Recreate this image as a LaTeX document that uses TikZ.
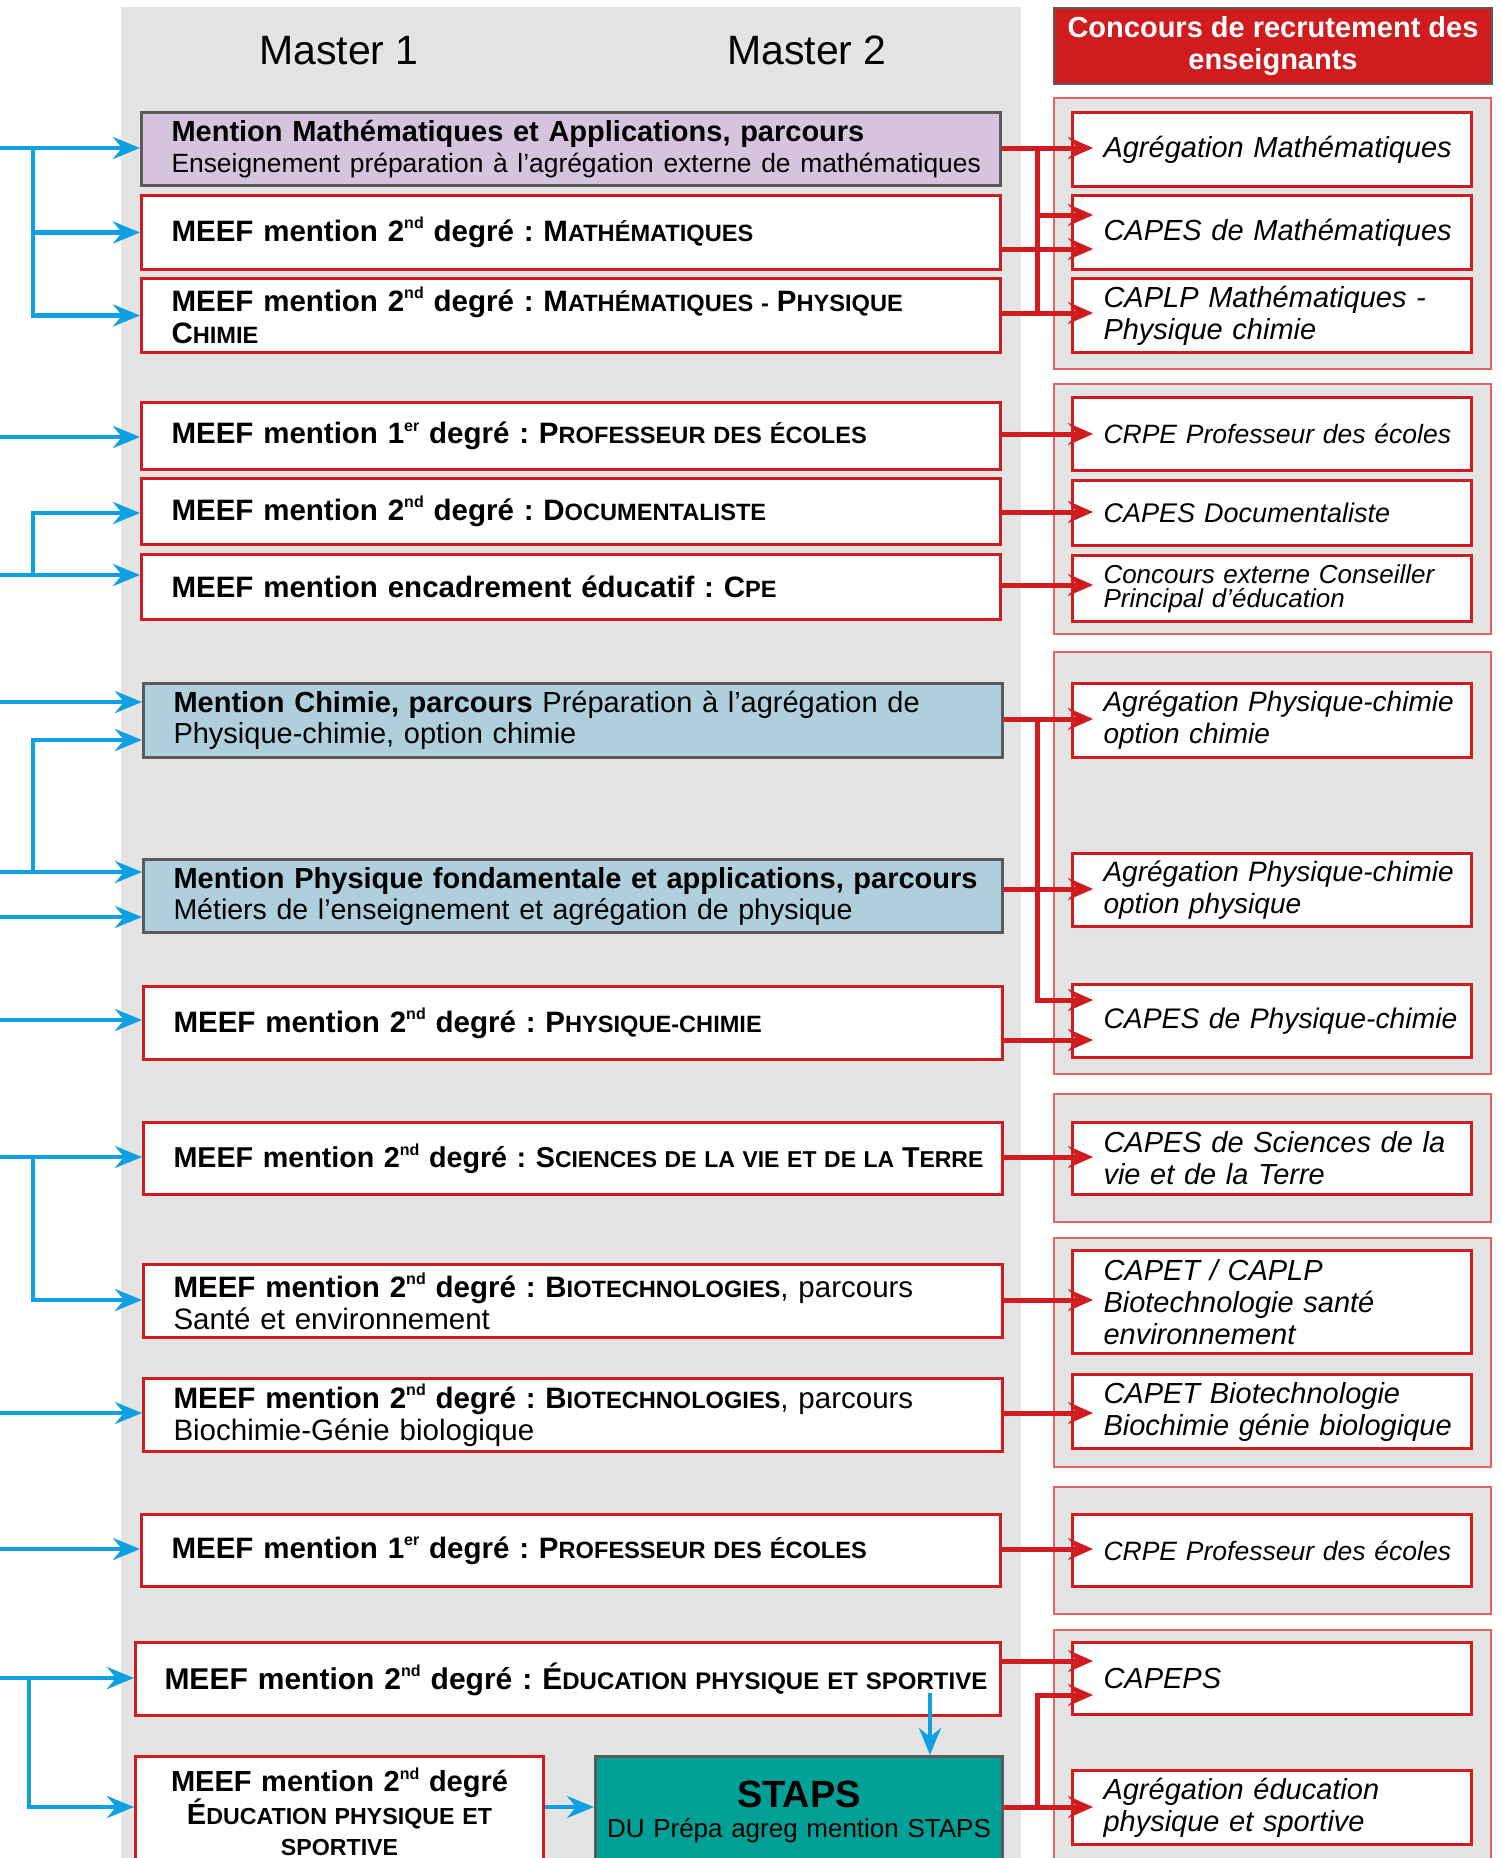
\documentclass[tikz,border=0pt]{standalone}
\usepackage{fontspec}
\setmainfont{Liberation Sans}
\usepackage{graphicx}
\usetikzlibrary{arrows.meta}
\definecolor{rred}{RGB}{208,28,31}
\definecolor{bblue}{RGB}{14,160,226}
\definecolor{panel}{RGB}{228,228,228}
\definecolor{purp}{RGB}{214,195,221}
\definecolor{lblue}{RGB}{175,207,220}
\definecolor{teal}{RGB}{0,160,150}
\definecolor{dgray}{RGB}{90,90,90}
\definecolor{pinkb}{RGB}{226,100,100}
\newcommand\sups[1]{\raisebox{0.43em}{\fontsize{16}{16}\selectfont #1}}
\newcommand\sk[1]{\scalebox{0.8}{#1}}
\frenchspacing
\begin{document}
\frenchspacing
\begin{tikzpicture}[x=1pt,y=-1pt,
  lbase/.style={draw=rred, line width=3pt, fill=white, anchor=north west, inner xsep=0pt, inner ysep=0pt, align=left, font=\fontsize{29.5}{32}\selectfont},
  lbox/.style={lbase, execute at begin node={\leftskip=30pt\relax}},
  gbox/.style={lbox, draw=dgray},
  rbox/.style={draw=rred, line width=3pt, fill=white, anchor=north west, inner xsep=0pt, inner ysep=0pt, minimum width=399pt, text width=399pt, align=left, font=\itshape\fontsize{29}{32}\selectfont, execute at begin node={\leftskip=31pt\relax}},
  grp/.style={draw=pinkb, line width=1.5pt, fill=panel, anchor=north west, inner sep=0pt},
  barrow/.style={draw=bblue, line width=4.5pt, -{Stealth[length=27pt,width=22pt,inset=9pt]}},
  rarrow/.style={draw=rred, line width=5pt, -{Stealth[length=25pt,width=22pt,inset=9pt]}},
  rline/.style={draw=rred, line width=5pt}
]
\useasboundingbox (0,0) rectangle (1501,1858);
\fill[panel] (121,7) rectangle (1021,1870);

% right groups
\node[grp, minimum width=437pt, minimum height=271pt] (g1) at (1053,97) {};
\node[grp, minimum width=437pt, minimum height=250pt] (g2) at (1053,383) {};
\node[grp, minimum width=437pt, minimum height=422pt] (g3) at (1053,651) {};
\node[grp, minimum width=437pt, minimum height=128pt] (g4) at (1053,1093) {};
\node[grp, minimum width=437pt, minimum height=229pt] (g5) at (1053,1237) {};
\node[grp, minimum width=437pt, minimum height=127pt] (g6) at (1053,1486) {};
\node[grp, minimum width=437pt, minimum height=250pt] (g7) at (1053,1629) {};

% header
\node[draw=dgray, line width=2pt, fill=rred, anchor=north west, minimum width=438pt, minimum height=76pt, text=white, align=center, font=\bfseries\fontsize{29}{32}\selectfont] (hdr) at (1053,7) {Concours de recrutement des\\enseignants};
\node[anchor=base, font=\fontsize{41}{41}\selectfont] (m1) at (339,64) {Master 1};
\node[anchor=base, font=\fontsize{41}{41}\selectfont] (m2) at (807,64) {Master 2};

% left boxes
\node[gbox, fill=purp, minimum width=859pt, minimum height=73pt, text width=859pt, font=\fontsize{29}{31}\selectfont] (purple) at (140,111)
  {\textbf{Mention Mathématiques et Applications, parcours}\\{\fontsize{26.4}{31}\selectfont Enseignement préparation à l’agrégation externe de mathématiques}};
\node[lbox, minimum width=859pt, minimum height=74pt, text width=859pt] (math) at (140,194)
  {\textbf{MEEF mention 2\sups{nd} degré : M\sk{ATHÉMATIQUES}}};
\node[lbox, minimum width=859pt, minimum height=74pt, text width=859pt] (mathpc) at (140,277)
  {\textbf{MEEF mention 2\sups{nd} degré : M\sk{ATHÉMATIQUES - }P\sk{HYSIQUE}}\\\textbf{C\sk{HIMIE}}};
\node[lbox, minimum width=859pt, minimum height=67pt, text width=859pt] (pe1) at (140,401)
  {\textbf{MEEF mention 1\sups{er} degré : P\sk{ROFESSEUR DES ÉCOLES}}};
\node[lbox, minimum width=859pt, minimum height=66pt, text width=859pt] (doc) at (140,477)
  {\textbf{MEEF mention 2\sups{nd} degré : D\sk{OCUMENTALISTE}}};
\node[lbox, minimum width=859pt, minimum height=65pt, text width=859pt] (cpe) at (140,553)
  {\textbf{MEEF mention encadrement éducatif : C\sk{PE}}};
\node[gbox, fill=lblue, minimum width=859pt, minimum height=74pt, text width=859pt, font=\fontsize{29}{31}\selectfont] (chimie) at (142,682)
  {\textbf{Mention Chimie, parcours} Préparation à l’agrégation de\\Physique-chimie, option chimie};
\node[gbox, fill=lblue, minimum width=859pt, minimum height=73pt, text width=859pt, font=\fontsize{29}{31}\selectfont] (phys) at (142,858)
  {\textbf{Mention Physique fondamentale et applications, parcours}\\{\fontsize{28.5}{31}\selectfont Métiers de l’enseignement et agrégation de physique}};
\node[lbox, minimum width=859pt, minimum height=73pt, text width=859pt] (pc) at (142,985)
  {\textbf{MEEF mention 2\sups{nd} degré : P\sk{HYSIQUE-CHIMIE}}};
\node[lbox, minimum width=859pt, minimum height=72pt, text width=859pt, font=\fontsize{28.7}{32}\selectfont] (svt) at (142,1121)
  {\textbf{MEEF mention 2\sups{nd} degré : S\sk{CIENCES DE LA VIE ET DE LA }T\sk{ERRE}}};
\node[lbox, minimum width=859pt, minimum height=73pt, text width=859pt] (bse) at (142,1263)
  {\textbf{MEEF mention 2\sups{nd} degré : B\sk{IOTECHNOLOGIES}}, parcours\\Santé et environnement};
\node[lbox, minimum width=859pt, minimum height=73pt, text width=859pt] (bgb) at (142,1377)
  {\textbf{MEEF mention 2\sups{nd} degré : B\sk{IOTECHNOLOGIES}}, parcours\\Biochimie-Génie biologique};
\node[lbox, minimum width=859pt, minimum height=72pt, text width=859pt] (pe2) at (140,1513)
  {\textbf{MEEF mention 1\sups{er} degré : P\sk{ROFESSEUR DES ÉCOLES}}};
\node[lbase, minimum width=865pt, minimum height=73pt, text width=865pt, font=\fontsize{30}{32}\selectfont, execute at begin node={\leftskip=29pt\relax}] (eps) at (134,1641)
  {\textbf{MEEF mention 2\sups{nd} degré : É\sk{DUCATION PHYSIQUE ET SPORTIVE}}};
\node[lbase, inner xsep=5pt, minimum width=408pt, minimum height=110pt, text width=398pt, align=center, font=\bfseries\fontsize{29}{31}\selectfont] (epss) at (134,1755)
  {MEEF mention 2\sups{nd} degré\\É\sk{DUCATION PHYSIQUE ET}\\\sk{SPORTIVE}\par\vspace{10pt}};
\node[lbase, draw=dgray, fill=teal, inner xsep=5pt, minimum width=407pt, minimum height=110pt, text width=397pt, align=center, font=\fontsize{26}{30}\selectfont] (staps) at (594,1755)
  {{\bfseries\fontsize{38}{44}\selectfont STAPS}\\DU Prépa agreg mention STAPS};

% right boxes
\node[rbox, minimum height=74pt] (am) at (1071,111) {Agrégation Mathématiques};
\node[rbox, minimum height=74pt] (cm) at (1071,194) {CAPES de Mathématiques};
\node[rbox, minimum height=74pt] (cl) at (1071,277) {CAPLP Mathématiques -\\Physique chimie};
\node[rbox, minimum height=73pt, font=\itshape\fontsize{26.5}{32}\selectfont] (crpe) at (1071,396) {CRPE Professeur des écoles};
\node[rbox, minimum height=65pt, font=\itshape\fontsize{27}{32}\selectfont] (cdoc) at (1071,479) {CAPES Documentaliste};
\node[rbox, minimum height=66pt, font=\itshape\fontsize{26}{24}\selectfont] (ccpe) at (1071,554) {Concours externe Conseiller\\Principal d’éducation};
\node[rbox, minimum height=74pt, font=\itshape\fontsize{28}{32}\selectfont] (apc) at (1071,682) {Agrégation Physique-chimie\\option chimie};
\node[rbox, minimum height=73pt, font=\itshape\fontsize{28}{32}\selectfont] (app) at (1071,852) {Agrégation Physique-chimie\\option physique};
\node[rbox, minimum height=73pt, font=\itshape\fontsize{28.3}{32}\selectfont] (cpc) at (1071,983) {CAPES de Physique-chimie};
\node[rbox, minimum height=72pt] (csvt) at (1071,1121) {CAPES de Sciences de la\\vie et de la Terre};
\node[rbox, minimum height=103pt] (capet) at (1071,1249) {CAPET / CAPLP\\Biotechnologie santé\\environnement};
\node[rbox, minimum height=74pt] (cbgb) at (1071,1373) {CAPET Biotechnologie\\Biochimie génie biologique};
\node[rbox, minimum height=72pt, font=\itshape\fontsize{26.5}{32}\selectfont] (crpe2) at (1071,1513) {CRPE Professeur des écoles};
\node[rbox, minimum height=72pt] (capeps) at (1071,1641) {CAPEPS};
\node[rbox, minimum height=74pt] (aeps) at (1071,1769) {Agrégation éducation\\physique et sportive};

% arrow tip points on right boxes
\foreach \n in {am,cm,cl,crpe,cdoc,ccpe,apc,app,cpc,csvt,capet,cbgb,crpe2,capeps,aeps}
  \coordinate (\n-in) at ([xshift=22pt]\n.west);

% blue connectors
\coordinate (b1) at (0,148);
\coordinate (t1) at (33,148);
\draw[barrow] (b1) -- (purple.west |- b1);
\draw[barrow] (t1) |- (math.west);
\draw[barrow] (t1) |- (mathpc.west);
\coordinate (b2) at (0,437);
\draw[barrow] (b2) -- (pe1.west |- b2);
\coordinate (b3) at (0,575);
\coordinate (t3) at (33,575);
\draw[barrow] (b3) -- (cpe.west |- b3);
\draw[barrow] (t3) |- (doc.west |- 0,513);
\coordinate (b4) at (0,702);
\draw[barrow] (b4) -- (chimie.west |- b4);
\coordinate (b5) at (0,872);
\coordinate (t5) at (33,872);
\draw[barrow] (b5) -- (phys.west |- b5);
\draw[barrow] (t5) |- (chimie.west |- 0,740);
\coordinate (b6) at (0,917);
\draw[barrow] (b6) -- (phys.west |- b6);
\coordinate (b7) at (0,1020);
\draw[barrow] (b7) -- (pc.west |- b7);
\coordinate (b8) at (0,1157);
\coordinate (t8) at (33,1157);
\draw[barrow] (b8) -- (svt.west |- b8);
\draw[barrow] (t8) |- (bse.west |- 0,1300);
\coordinate (b9) at (0,1413);
\draw[barrow] (b9) -- (bgb.west |- b9);
\coordinate (b10) at (0,1549);
\draw[barrow] (b10) -- (pe2.west |- b10);
\coordinate (b11) at (0,1678);
\coordinate (t11) at (29,1678);
\draw[barrow] (b11) -- (eps.west |- b11);
\draw[barrow] (t11) |- (epss.west |- 0,1807);
\draw[barrow] (epss.east |- 0,1807) -- (staps.west |- 0,1807);
\coordinate (v1) at (930,1693);
\draw[barrow] (v1) -- (staps.north -| v1);

% red connectors
\draw[rarrow] (purple.east |- 0,148) -- (am-in |- 0,148);
\coordinate (r1) at (1037,148);
\coordinate (r1b) at (1037,313);
\draw[rarrow] (r1) |- (cm-in |- 0,215);
\draw[rline] (r1) -- (r1b);
\draw[rarrow] (math.east |- 0,249) -- (cm-in |- 0,249);
\draw[rarrow] (mathpc.east |- 0,313) -- (cl-in |- 0,313);
\draw[rarrow] (pe1.east |- 0,434) -- (crpe-in |- 0,434);
\draw[rarrow] (doc.east |- 0,512) -- (cdoc-in |- 0,512);
\draw[rarrow] (cpe.east |- 0,585) -- (ccpe-in |- 0,585);
\draw[rarrow] (chimie.east |- 0,719) -- (apc-in |- 0,719);
\coordinate (r2) at (1037,719);
\draw[rarrow] (r2) |- (cpc-in |- 0,1000);
\draw[rarrow] (phys.east |- 0,889) -- (app-in |- 0,889);
\draw[rarrow] (pc.east |- 0,1040) -- (cpc-in |- 0,1040);
\draw[rarrow] (svt.east |- 0,1157) -- (csvt-in |- 0,1157);
\draw[rarrow] (bse.east |- 0,1300) -- (capet-in |- 0,1300);
\draw[rarrow] (bgb.east |- 0,1413) -- (cbgb-in |- 0,1413);
\draw[rarrow] (pe2.east |- 0,1549) -- (crpe2-in |- 0,1549);
\draw[rarrow] (eps.east |- 0,1661) -- (capeps-in |- 0,1661);
\draw[rarrow] (staps.east |- 0,1807) -- (aeps-in |- 0,1807);
\coordinate (r3) at (1037,1807);
\draw[rarrow] (r3) |- (capeps-in |- 0,1695);
\end{tikzpicture}
\end{document}
